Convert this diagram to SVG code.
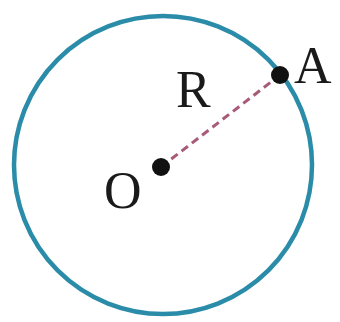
<svg xmlns="http://www.w3.org/2000/svg" width="340" height="322" viewBox="0 0 340 322">
<style>
.lbl{font-family:"Liberation Serif","Times New Roman",serif;font-size:52px;fill:#1a1a1a}
.dot{fill:#111}
</style>
<rect width="340" height="322" fill="#ffffff"/>
<g id="circle">
<circle cx="163" cy="165" r="149" fill="none" stroke="#2a8ca8" stroke-width="4.5"/>
</g>
<g id="connectors">
<line x1="161" y1="167" x2="280" y2="75" stroke="#a85a78" stroke-width="3" stroke-dasharray="8,5"/>
</g>
<g id="node-O">
<circle class="dot" cx="161" cy="167" r="9"/>
<text class="lbl" x="104" y="208">O</text>
</g>
<g id="node-A">
<circle class="dot" cx="280" cy="75" r="9"/>
<text class="lbl" x="294" y="83">A</text>
</g>
<g id="label-R">
<text class="lbl" x="176" y="107">R</text>
</g>
</svg>
